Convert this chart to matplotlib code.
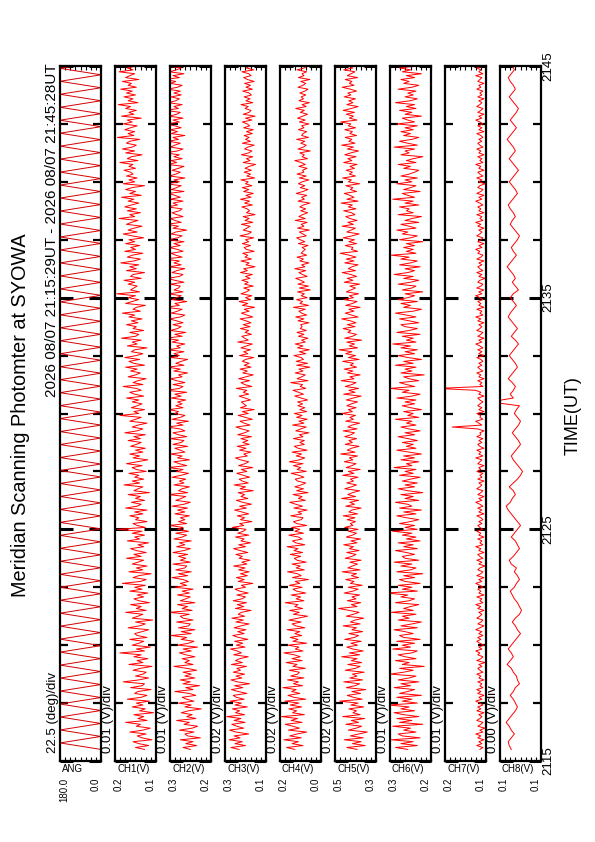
import numpy as np
import matplotlib
matplotlib.use('Agg')
from matplotlib import pyplot as plt

plt.rcParams['font.family'] = ['Liberation Sans', 'DejaVu Sans']

# panel names, scales and end labels (value axis, max on the left)
names = ['ANG', 'CH1(V)', 'CH2(V)', 'CH3(V)', 'CH4(V)', 'CH5(V)', 'CH6(V)', 'CH7(V)', 'CH8(V)']
div_labels = ['22.5 (deg)/div', '0.01 (V)/div', '0.01 (V)/div', '0.02 (V)/div', '0.02 (V)/div',
              '0.02 (V)/div', '0.01 (V)/div', '0.01 (V)/div', '0.00 (V)/div']
vmax_list = [180.0, 0.184, 0.2843, 0.271, 0.1675, 0.460, 0.281, 0.168, 0.128]
vmin_list = [0.0, 0.134, 0.2393, 0.181, 0.0775, 0.380, 0.251, 0.128, 0.108]
left_labels = ['180.0', '0.2', '0.3', '0.3', '0.2', '0.5', '0.3', '0.2', '0.1']
right_labels = ['0.0', '0.1', '0.2', '0.1', '0.0', '0.3', '0.2', '0.1', '0.1']

time_ticks = [15, 25, 35, 45]
time_labels = ['2115', '2125', '2135', '2145']

# scan mirror angle at each turning point (deg), one sweep every ~17 s
ang_v = [0, 180, 0, 180, 0, 180, 0, 180, 0, 180, 0, 180, 0, 180, 0, 180, 0, 180, 0, 180,
         0, 180, 0, 180, 0, 180, 0, 180, 0, 180, 0, 180, 0, 180, 0, 180, 0, 180, 0, 180,
         0, 180, 0, 180, 0, 180, 0, 180, 0, 180, 0, 180, 0, 180, 0, 180, 0, 180, 0, 180,
         0, 180, 0, 180, 0, 180, 0, 180, 0, 180, 0, 180, 0, 180, 0, 180, 0, 180, 0, 180,
         0, 180, 0, 180, 0, 180, 0, 180, 0, 180, 0, 180, 0, 180, 0, 180, 0, 180, 0, 180,
         0, 180, 0, 180, 0, 180, 0]
ang_t = 15.5 + np.arange(len(ang_v)) * 0.28

# photometer channels CH1-CH7, mV, one sample every 5 s from 21:15:30
ch1 = [148,159,143,155,162,139,151,157,146,166,150,141,158,153,171,145,156,149,161,137,
       154,147,163,150,158,142,169,152,145,160,156,140,165,151,148,174,155,143,159,150,
       146,162,153,139,167,150,157,144,161,152,178,148,158,141,163,155,149,166,145,157,
       160,151,143,168,154,147,159,138,163,156,150,171,146,158,152,165,142,155,161,149,
       157,144,166,151,160,147,175,153,146,162,155,140,167,150,158,145,163,156,149,170,
       152,161,146,158,165,149,156,143,169,154,160,148,163,151,181,147,157,162,145,159,
       155,166,150,160,145,171,157,152,164,148,159,153,168,142,161,156,150,173,154,163,
       149,160,155,167,146,158,163,151,170,157,144,162,154,166,150,159,147,165,158,152,
       168,153,161,147,172,157,150,163,156,145,166,159,152,178,155,161,148,164,157,151,
       163,155,170,149,160,166,152,158,174,150,162,156,146,168,159,153,165,157,171,148,
       161,167,154,172,158,150,164,160,145,169,157,163,152,176,159,155,166,149,162,158,
       170,156,164,151,167,160,175,153,162,158,147,171,163,155,168,159,182,154,165,161,
       157,168,160,173,152,165,162,148,170,158,166,155,177,161,153,169,163,150,172,159,
       165,154,171,160,167,149,163,174,157,168,161,151,170,164,156,179,160,166,153,169,
       158,172,164,155,168,161,176,152,166,159,171,163,148,174,160,167,157,170,162,165,
       173,159,167,162,178,156,169,164,151,171,160,175,163,158,170,166,154,181,161,168,
       160,172,165,157,174,163,169,152,176,161,167,158,171,165,180,156,168,162,173,159,
       170,163,177,158,168,164,175,155,171,166,160,179,162,169,157,174,165,161,172,167,
       166]
ch2 = [262,270,255,267,259,273,251,265,268,258,274,260,254,269,263,277,256,266,260,272,
       264,250,268,261,275,258,266,271,256,263,279,259,267,252,270,262,273,257,268,261,
       270,255,266,280,259,268,263,271,257,267,274,261,270,254,276,264,258,272,266,283,
       261,272,257,275,264,262,277,259,270,273,263,285,260,271,265,276,257,273,267,262,
       276,263,271,259,279,266,273,264,270,282,265,275,261,278,268,266,281,262,273,267,
       275,265,281,269,262,277,268,274,261,280,271,266,278,264,276,270,285,266,275,268,
       273,263,279,268,276,265,282,269,262,278,272,267,286,265,275,271,263,280,269,274,
       267,282,272,264,277,270,286,266,274,280,263,276,271,284,268,273,279,265,281,272,
       269,284,266,275,281,268,273,288,270,277,264,282,273,268,279,275,285,270,278,271,
       276,267,283,272,279,266,288,274,270,281,268,277,284,271,275,265,280,273,287,269,
       278,272,265,283,274,280,269,286,273,277,268,282,275,290,271,279,267,284,276,272,
       281,270,277,285,273,268,283,276,271,289,274,279,266,282,277,272,286,270,280,275,
       273,284,269,279,287,274,270,282,277,268,285,272,280,274,291,271,278,283,270,276,
       285,273,280,269,286,276,271,283,278,266,281,275,288,272,279,284,270,277,282,274,
       271,287,276,281,270,284,273,279,286,269,283,277,272,289,274,280,268,285,278,273,
       282,275,269,287,277,283,271,280,274,290,276,270,284,279,273,286,275,281,268,283,
       276,284,272,279,288,274,281,270,285,277,273,289,275,280,271,286,278,274,283,272,
       280,273,287,276,271,284,278,290,274,281,269,285,277,272,288,275,282,270,279,277,
       278]
ch3 = [240,258,226,249,233,262,238,251,219,247,261,230,245,256,227,251,236,267,228,248,
       239,255,222,249,235,260,229,246,253,223,242,257,232,250,217,244,258,234,247,228,
       253,237,245,224,257,233,248,239,220,252,235,244,259,227,246,232,250,221,241,254,
       229,243,225,251,236,218,247,231,256,228,242,235,214,248,230,244,224,253,234,226,
       245,220,239,249,226,235,210,242,229,246,222,237,218,241,227,252,223,234,216,240,
       233,247,221,238,252,226,241,215,236,229,248,219,243,231,225,255,230,239,212,237,
       228,244,219,234,250,224,239,213,232,246,221,236,228,242,209,238,226,251,220,233,
       240,217,231,245,223,235,210,241,227,219,237,248,222,230,214,239,225,244,218,232,
       221,236,213,243,228,218,234,247,216,229,238,211,226,242,220,233,207,237,224,230,
       235,215,227,240,219,231,223,246,212,228,236,217,241,225,209,232,222,238,214,229,
       218,233,226,208,239,221,230,215,236,224,211,243,220,228,234,213,227,219,237,216,
       231,214,225,238,210,223,235,218,229,206,233,221,240,215,226,212,236,224,217,230,
       209,228,220,234,216,226,211,237,222,230,205,225,218,236,213,227,221,232,207,224,
       229,215,233,219,226,208,238,220,213,231,223,216,235,210,227,218,231,205,224,217,
       222,234,211,228,217,237,214,225,209,230,219,233,212,226,220,236,206,223,215,229,
       213,227,218,204,231,216,224,210,235,219,212,228,221,207,233,215,226,218,229,211,
       224,209,230,217,222,233,212,226,205,231,218,214,227,220,236,210,225,216,229,213,
       218,232,211,225,215,228,207,222,230,214,219,234,208,224,217,227,212,221,231,214,
       216]
ch4 = [135,153,117,141,127,159,121,146,130,109,149,125,139,156,119,143,129,164,114,140,
       131,148,120,145,126,157,111,137,150,124,142,132,161,118,138,127,151,115,144,129,
       125,147,112,139,130,154,119,141,123,136,159,117,134,126,150,109,139,128,145,120,
       135,124,152,113,133,141,121,148,127,107,138,125,146,118,135,128,156,115,132,122,
       143,111,131,139,119,147,124,134,105,140,121,129,151,114,132,123,141,110,130,136,
       122,145,118,137,128,152,113,133,140,119,127,148,116,135,124,142,109,131,138,121,
       117,144,120,128,108,137,118,133,146,112,127,119,139,106,131,116,135,121,111,129,
       134,115,126,143,110,130,122,138,117,147,125,113,132,120,141,108,128,136,114,124,
       114,138,117,125,104,133,122,110,140,115,126,108,131,119,136,109,124,113,128,118,
       129,107,121,135,116,127,139,111,123,118,144,106,130,120,112,134,117,126,102,131,
       107,132,116,121,137,111,125,103,129,117,134,112,120,106,127,115,130,110,123,119,
       122,104,128,115,133,109,120,126,112,138,105,124,118,131,108,121,114,129,101,125,
       105,128,114,122,133,108,118,126,111,135,113,120,104,124,116,130,109,121,117,112,
       119,106,127,113,123,131,110,117,125,103,129,115,121,108,134,112,126,118,107,122,
       111,124,116,102,128,114,120,109,132,117,106,123,113,127,119,104,125,110,130,115,
       118,108,126,112,121,135,107,119,114,124,101,128,116,110,122,113,131,105,120,117,
       109,127,115,120,104,125,112,129,118,107,123,114,133,110,119,103,126,116,121,111,
       124,113,106,128,117,111,122,102,127,115,119,109,130,114,108,125,116,121,106,118,
       114]
ch5 = [417,437,401,426,409,442,405,430,413,397,434,419,408,439,414,428,402,445,411,425,
       418,433,404,429,415,451,407,424,436,410,427,400,438,421,412,443,406,431,417,426,
       403,440,420,411,435,408,428,417,447,412,432,405,425,437,416,429,409,441,422,414,
       433,406,427,418,444,411,430,421,404,438,424,413,432,453,417,428,410,436,419,427,
       412,442,425,415,434,407,430,423,439,414,428,418,446,411,435,426,416,431,409,440,
       427,419,437,413,432,424,443,417,429,410,438,426,418,434,415,441,425,430,420,436,
       421,444,416,433,427,409,439,422,431,414,447,420,435,426,412,441,428,418,437,424,
       430,415,445,423,434,411,438,427,419,442,425,432,416,449,421,436,428,413,440,426,
       433,418,441,429,422,444,417,435,427,412,439,424,431,420,446,426,434,419,437,428,
       416,438,425,409,443,421,433,414,440,427,419,448,423,431,411,436,425,442,418,430,
       424,445,413,434,420,439,427,452,416,432,422,437,408,441,426,418,435,429,444,421,
       436,419,430,447,415,428,440,423,433,411,439,426,417,443,424,432,414,438,429,420,
       431,412,442,425,436,418,429,446,420,434,427,415,441,423,438,419,432,450,416,428,
       425,440,418,433,422,444,427,413,437,429,420,446,424,435,417,431,439,421,428,443,
       419,434,426,448,415,437,423,431,442,418,430,425,439,412,434,428,445,420,432,426,
       438,422,431,417,443,427,435,419,441,429,414,436,424,447,421,433,427,440,418,431,
       426,441,420,434,429,449,417,432,424,438,422,444,428,415,437,425,433,420,442,429,
       435,418,430,446,423,432,427,440,416,436,429,421,443,425,434,419,438,428,431,430,
       430]
ch6 = [268,277,261,273,264,280,259,272,275,262,271,266,279,257,274,265,276,260,271,278,
       263,273,267,282,261,272,265,276,258,274,268,263,278,266,273,260,275,267,262,281,
       271,264,274,256,272,267,277,262,270,275,265,261,279,266,272,263,276,259,271,274,
       264,270,278,261,273,265,258,275,267,272,262,280,264,271,266,260,277,267,263,273,
       268,284,261,272,265,275,259,270,274,263,271,257,276,266,262,273,265,278,260,270,
       272,263,269,277,261,271,264,275,259,269,262,272,265,279,261,270,263,274,266,260,
       269,276,262,271,258,274,265,268,277,260,270,264,273,257,268,275,263,270,261,272,
       266,259,274,264,270,262,278,265,269,260,273,263,271,258,267,276,262,269,264,272,
       261,268,275,263,270,259,267,273,262,269,265,277,260,268,264,271,258,266,272,263,
       270,262,276,265,259,272,267,281,263,269,274,260,267,271,256,273,265,270,262,277,
       264,271,258,268,275,263,270,261,273,266,279,262,269,264,272,259,276,267,261,270,
       273,260,267,274,262,269,277,264,258,271,266,273,261,275,268,263,270,257,272,265,
       262,275,266,260,271,264,278,268,263,270,259,274,266,261,273,267,280,262,269,264,
       271,263,269,257,274,266,261,272,268,276,262,267,273,260,270,265,258,275,264,269,
       267,274,260,270,264,279,263,268,272,259,271,266,262,276,265,270,261,273,267,263,
       260,271,266,275,262,269,264,257,273,267,270,263,278,261,268,274,265,260,271,266,
       273,264,270,261,276,263,268,272,258,270,265,274,262,269,263,277,266,261,270,264,
       268,262,275,265,260,271,267,273,263,269,258,272,266,274,261,268,264,270,262,267,
       266]
ch7 = [134,131,137,132,135,130,136,133,138,131,134,129,136,133,131,137,134,132,135,130,
       137,133,136,131,134,138,132,135,130,136,133,137,131,134,132,136,130,135,133,137,
       131,134,136,132,135,129,137,133,131,136,134,138,132,135,130,134,137,133,136,131,
       135,132,138,134,130,136,133,131,137,134,132,135,130,136,133,138,131,134,132,137,
       130,135,133,136,131,134,138,132,135,130,137,133,131,136,134,129,135,132,137,131,
       134,136,130,135,133,138,131,134,132,136,130,135,133,137,131,134,136,132,135,131,
       133,137,130,135,132,136,131,134,138,132,135,130,136,133,131,137,134,132,135,130,
       136,132,134,131,137,133,135,130,136,134,132,138,131,135,133,137,130,134,136,132,
       135,131,137,133,134,130,136,161,132,135,138,131,134,133,137,130,135,132,136,134,
       131,134,136,130,135,133,138,175,131,134,132,136,130,135,133,137,131,134,136,132,
       135,131,133,137,130,135,132,136,131,134,138,132,135,130,136,133,131,137,134,132,
       135,130,136,133,138,131,134,132,137,130,135,133,136,131,134,138,132,135,130,137,
       133,131,136,134,129,135,132,137,131,134,136,132,135,130,137,133,131,136,134,138,
       132,135,130,136,133,131,137,134,132,135,130,136,133,138,131,134,132,137,130,135,
       133,136,131,134,138,132,135,130,137,133,131,136,134,129,135,132,137,131,134,136,
       130,135,133,138,131,134,132,136,130,135,133,137,131,134,136,132,135,131,133,137,
       130,135,132,136,131,134,138,132,135,130,136,133,131,137,134,132,135,130,136,132,
       134,131,137,133,135,130,136,134,132,138,131,135,133,137,130,134,136,132,135,131,
       134]
# CH8, mV, one sample every 10 s
ch8 = [122.5,123.5,124.0,122.5,121.0,122.5,123.5,125.0,123.5,122.0,120.5,119.5,120.5,121.5,123.0,121.5,120.5,118.5,119.5,120.0,
       121.5,122.5,124.5,123.0,121.5,122.5,124.0,122.5,121.0,119.5,118.0,119.5,120.5,122.0,120.5,118.5,117.5,118.5,119.5,121.0,
       122.0,123.0,121.0,120.0,118.5,119.5,121.0,120.0,122.5,123.5,121.5,120.0,118.5,119.5,120.5,122.5,121.0,119.5,118.0,119.5,
       121.0,122.5,124.0,125.0,123.0,122.0,120.5,121.5,123.5,121.5,119.5,118.0,117.0,118.5,120.0,121.5,122.5,121.0,119.5,118.0,
       119.0,120.5,122.0,120.5,119.0,118.0,119.5,121.0,120.0,118.5,133.0,121.5,123.0,121.5,120.5,122.0,124.0,122.5,121.0,119.5,
       120.5,122.0,123.5,122.0,120.5,119.0,120.5,122.5,121.0,119.5,121.0,122.5,124.0,123.0,121.5,120.0,121.5,123.0,121.5,119.0,
       120.5,122.0,120.5,121.5,123.0,124.5,123.0,121.5,120.0,121.5,122.5,121.0,119.5,118.5,120.0,121.5,123.0,122.0,120.5,121.5,
       123.0,124.0,122.5,121.0,119.5,120.5,122.0,123.5,122.0,120.5,119.0,120.5,122.0,123.5,122.0,120.5,121.5,123.0,124.5,123.0,
       121.5,120.0,121.5,123.0,121.5,120.0,119.0,120.5,122.0,123.5,122.0,120.5,121.5,123.0,124.0,122.5,121.0,122.0,123.5,122.0,
       121.0]

t_fast = 15.5 + np.arange(len(ch1)) / 12.0
t_slow = 15.5 + np.arange(len(ch8)) / 6.0
series = [(ang_t, ang_v)] + [(t_fast, np.array(c) / 1000.0) for c in [ch1, ch2, ch3, ch4, ch5, ch6, ch7]]
series.append((t_slow, np.array(ch8) / 1000.0))
colors = ['#d40000'] + ['#ff0000'] * 8

W, H = 595, 842
fig = plt.figure(figsize=(W / 100, H / 100), dpi=100)

def fx(x):
    return x / W

def fy(y):
    return 1 - y / H

top, bot = 66, 761
for i, (tt, vv) in enumerate(series):
    left = 60 + 55 * i
    ax = fig.add_axes([fx(left), fy(bot), 41 / W, (bot - top) / H])
    ax.plot(vv, tt, color=colors[i], lw=0.7)
    ax.set_xlim(vmax_list[i], vmin_list[i])
    ax.set_ylim(15, 45)
    ax.set_yticks(time_ticks)
    ax.set_yticks(np.arange(15, 45.1, 2.5), minor=True)
    ax.tick_params(axis='y', which='major', direction='in', length=9, width=2.2,
                   left=True, right=True, labelleft=False)
    ax.tick_params(axis='y', which='minor', direction='in', length=5.5, width=1.6,
                   left=True, right=True)
    ax.set_xticks(np.linspace(vmin_list[i], vmax_list[i], 9))
    ax.tick_params(axis='x', direction='in', length=3, width=0.8, top=True, bottom=True,
                   labelbottom=False)
    for s in ax.spines.values():
        s.set_linewidth(1.6)

    # labels around the panel (rotated page)
    fig.text(fx(left - 7), fy(bot - 8), div_labels[i], rotation=90, fontsize=9.5,
             ha='center', va='bottom')
    fig.text(fx(left + 2), fy(769), names[i], fontsize=7, ha='left', va='center')
    fig.text(fx(left + 4), fy(778), left_labels[i], rotation=90, rotation_mode='anchor',
             fontsize=7, ha='right', va='center')
    fig.text(fx(left + 36), fy(778), right_labels[i], rotation=90, rotation_mode='anchor',
             fontsize=7, ha='right', va='center')

for tk, lab in zip(time_ticks, time_labels):
    y = bot - (tk - 15) / 30 * (bot - top)
    fig.text(fx(548), fy(y), lab, rotation=90, fontsize=9.5, ha='center', va='center')

fig.text(fx(573), fy(416), 'TIME(UT)', rotation=90, fontsize=13, ha='center', va='center')
fig.text(fx(21), fy(415), 'Meridian Scanning Photomter at SYOWA', rotation=90, fontsize=14.3,
         ha='center', va='center')
fig.text(fx(52), fy(63), '2026 08/07 21:15:29UT - 2026 08/07 21:45:28UT', rotation=90,
         rotation_mode='anchor', fontsize=11, ha='right', va='center')

fig.savefig('out.png', dpi=100)
